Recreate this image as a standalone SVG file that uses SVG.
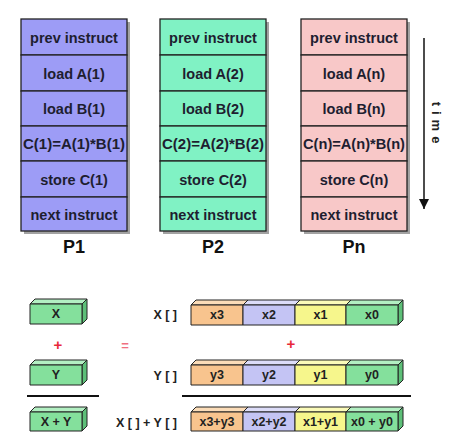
<svg xmlns="http://www.w3.org/2000/svg" width="451" height="446" viewBox="0 0 451 446">
<defs>
<marker id="ah" viewBox="0 0 10 10" refX="10" refY="5" markerWidth="10" markerHeight="10" orient="auto" markerUnits="userSpaceOnUse">
<path d="M0,0 L10,5 L0,10 z" fill="#111"/>
</marker>
</defs>
<style>
.t{font-family:"Liberation Sans",Arial,sans-serif;font-weight:bold;font-size:14.5px;fill:#1e1e30;text-anchor:middle;dominant-baseline:central}
.p{font-family:"Liberation Sans",Arial,sans-serif;font-weight:bold;font-size:18px;fill:#111;text-anchor:middle}
.s{font-family:"Liberation Sans",Arial,sans-serif;font-weight:bold;font-size:12.5px;fill:#222;text-anchor:middle;dominant-baseline:central}
.lab{font-family:"Liberation Sans",Arial,sans-serif;font-weight:bold;font-size:12.5px;fill:#222;text-anchor:end;dominant-baseline:central}
.cell{stroke:#222;stroke-width:1.3}
.shadow{fill:#555;opacity:0.55}
.edge{stroke:#222;stroke-width:1;stroke-linejoin:round}
.red{font-family:"Liberation Sans",Arial,sans-serif;font-weight:bold;fill:#e8283a;text-anchor:middle;dominant-baseline:central}
</style>

<g id="P1">
<rect class="shadow" x="24" y="22" width="106" height="212"/>
<g fill="#9d9cf6" class="cell">
<rect x="21" y="19" width="106" height="36"/>
<rect x="21" y="55" width="106" height="36"/>
<rect x="21" y="91" width="106" height="35"/>
<rect x="21" y="126" width="106" height="35"/>
<rect x="21" y="161" width="106" height="36"/>
<rect x="21" y="197" width="106" height="34"/>
</g>
<text class="t" x="74" y="38">prev instruct</text>
<text class="t" x="74" y="74">load A(1)</text>
<text class="t" x="74" y="109">load B(1)</text>
<text class="t" x="74" y="144" textLength="102" lengthAdjust="spacingAndGlyphs">C(1)=A(1)*B(1)</text>
<text class="t" x="74" y="180">store C(1)</text>
<text class="t" x="74" y="215">next instruct</text>
<text class="p" x="74" y="253">P1</text>
</g>

<g id="P2">
<rect class="shadow" x="163" y="22" width="106" height="212"/>
<g fill="#80f2c4" class="cell">
<rect x="160" y="19" width="106" height="36"/>
<rect x="160" y="55" width="106" height="36"/>
<rect x="160" y="91" width="106" height="35"/>
<rect x="160" y="126" width="106" height="35"/>
<rect x="160" y="161" width="106" height="36"/>
<rect x="160" y="197" width="106" height="34"/>
</g>
<text class="t" x="213" y="38">prev instruct</text>
<text class="t" x="213" y="74">load A(2)</text>
<text class="t" x="213" y="109">load B(2)</text>
<text class="t" x="213" y="144" textLength="102" lengthAdjust="spacingAndGlyphs">C(2)=A(2)*B(2)</text>
<text class="t" x="213" y="180">store C(2)</text>
<text class="t" x="213" y="215">next instruct</text>
<text class="p" x="213" y="253">P2</text>
</g>

<g id="Pn">
<rect class="shadow" x="304" y="22" width="106" height="212"/>
<g fill="#f8c8c8" class="cell">
<rect x="301" y="19" width="106" height="36"/>
<rect x="301" y="55" width="106" height="36"/>
<rect x="301" y="91" width="106" height="35"/>
<rect x="301" y="126" width="106" height="35"/>
<rect x="301" y="161" width="106" height="36"/>
<rect x="301" y="197" width="106" height="34"/>
</g>
<text class="t" x="354" y="38">prev instruct</text>
<text class="t" x="354" y="74">load A(n)</text>
<text class="t" x="354" y="109">load B(n)</text>
<text class="t" x="354" y="144" textLength="102" lengthAdjust="spacingAndGlyphs">C(n)=A(n)*B(n)</text>
<text class="t" x="354" y="180">store C(n)</text>
<text class="t" x="354" y="215">next instruct</text>
<text class="p" x="354" y="253">Pn</text>
</g>

<g id="time">
<line x1="424" y1="38" x2="424" y2="209" stroke="#111" stroke-width="1.5" marker-end="url(#ah)"/>
<text x="432" y="125" transform="rotate(90 432 125)" font-family="Liberation Sans,Arial,sans-serif" font-weight="bold" font-size="13" fill="#222" text-anchor="middle" letter-spacing="5">time</text>
</g>

<g id="scalar-X">
<polygon class="edge" points="30,304 35,299 87,299 82,304" fill="#b2efc2"/>
<polygon class="edge" points="82,304 87,299 87,319 82,324" fill="#5dbf78"/>
<rect class="edge" x="30" y="304" width="52" height="20" fill="#84e09c"/>
<text class="s" x="56" y="314">X</text>
</g>
<g id="scalar-Y">
<polygon class="edge" points="30,365 35,360 87,360 82,365" fill="#b2efc2"/>
<polygon class="edge" points="82,365 87,360 87,380 82,385" fill="#5dbf78"/>
<rect class="edge" x="30" y="365" width="52" height="20" fill="#84e09c"/>
<text class="s" x="56" y="375">Y</text>
</g>
<g id="scalar-XY">
<polygon class="edge" points="30,412 35,407 87,407 82,412" fill="#b2efc2"/>
<polygon class="edge" points="82,412 87,407 87,426 82,431" fill="#5dbf78"/>
<rect class="edge" x="30" y="412" width="52" height="19" fill="#84e09c"/>
<text class="s" x="56" y="421.5">X + Y</text>
</g>

<g id="vector-X">
<polygon class="edge" points="191,305 196,300 248,300 243,305" fill="#fbdcb8"/>
<polygon class="edge" points="243,305 248,300 300,300 295,305" fill="#dcdcf8"/>
<polygon class="edge" points="295,305 300,300 351,300 346,305" fill="#fafab8"/>
<polygon class="edge" points="346,305 351,300 403,300 398,305" fill="#b2efc2"/>
<polygon class="edge" points="398,305 403,300 403,320 398,325" fill="#5dbf78"/>
<rect class="edge" x="191" y="305" width="52" height="20" fill="#f8c48e"/>
<rect class="edge" x="243" y="305" width="52" height="20" fill="#c4c4f4"/>
<rect class="edge" x="295" y="305" width="51" height="20" fill="#f6f68c"/>
<rect class="edge" x="346" y="305" width="52" height="20" fill="#84e09c"/>
<text class="s" x="217" y="315">x3</text>
<text class="s" x="269" y="315">x2</text>
<text class="s" x="320.5" y="315">x1</text>
<text class="s" x="372" y="315">x0</text>
</g>
<g id="vector-Y">
<polygon class="edge" points="191,365 196,360 248,360 243,365" fill="#fbdcb8"/>
<polygon class="edge" points="243,365 248,360 300,360 295,365" fill="#dcdcf8"/>
<polygon class="edge" points="295,365 300,360 351,360 346,365" fill="#fafab8"/>
<polygon class="edge" points="346,365 351,360 403,360 398,365" fill="#b2efc2"/>
<polygon class="edge" points="398,365 403,360 403,380 398,385" fill="#5dbf78"/>
<rect class="edge" x="191" y="365" width="52" height="20" fill="#f8c48e"/>
<rect class="edge" x="243" y="365" width="52" height="20" fill="#c4c4f4"/>
<rect class="edge" x="295" y="365" width="51" height="20" fill="#f6f68c"/>
<rect class="edge" x="346" y="365" width="52" height="20" fill="#84e09c"/>
<text class="s" x="217" y="375">y3</text>
<text class="s" x="269" y="375">y2</text>
<text class="s" x="320.5" y="375">y1</text>
<text class="s" x="372" y="375">y0</text>
</g>
<g id="vector-XY">
<polygon class="edge" points="191,412 196,407 248,407 243,412" fill="#fbdcb8"/>
<polygon class="edge" points="243,412 248,407 300,407 295,412" fill="#dcdcf8"/>
<polygon class="edge" points="295,412 300,407 351,407 346,412" fill="#fafab8"/>
<polygon class="edge" points="346,412 351,407 403,407 398,412" fill="#b2efc2"/>
<polygon class="edge" points="398,412 403,407 403,426 398,431" fill="#5dbf78"/>
<rect class="edge" x="191" y="412" width="52" height="19" fill="#f8c48e"/>
<rect class="edge" x="243" y="412" width="52" height="19" fill="#c4c4f4"/>
<rect class="edge" x="295" y="412" width="51" height="19" fill="#f6f68c"/>
<rect class="edge" x="346" y="412" width="52" height="19" fill="#84e09c"/>
<text class="s" x="217" y="421.5">x3+y3</text>
<text class="s" x="269" y="421.5">x2+y2</text>
<text class="s" x="320.5" y="421.5">x1+y1</text>
<text class="s" x="372" y="421.5">x0 + y0</text>
</g>

<g id="labels">
<text class="lab" x="177" y="315">X [ ]</text>
<text class="lab" x="177" y="376">Y [ ]</text>
<text class="lab" x="177" y="423">X [ ] + Y [ ]</text>
<text class="red" x="58" y="344" font-size="15">+</text>
<text class="red" x="291" y="343" font-size="15">+</text>
<text class="red" x="125" y="345" font-size="13" style="fill:#f07080">=</text>
</g>

<g id="connectors">
<line x1="27" y1="396" x2="99" y2="396" stroke="#111" stroke-width="2"/>
<line x1="182" y1="396" x2="411" y2="396" stroke="#111" stroke-width="2"/>
</g>
</svg>
